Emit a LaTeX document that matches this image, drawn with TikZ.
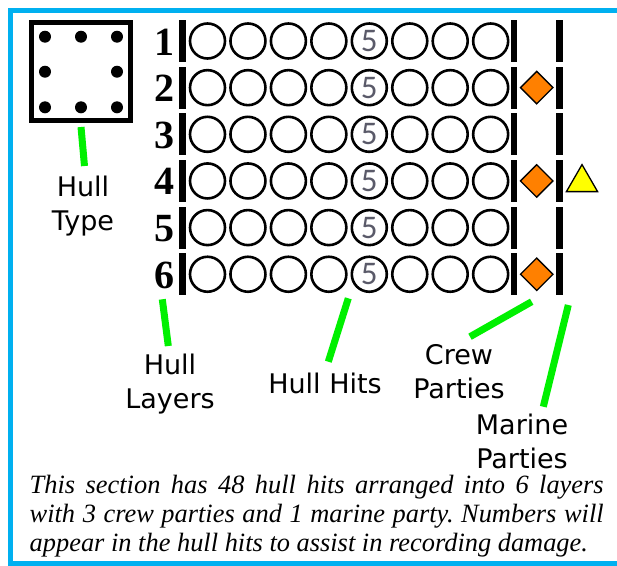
\documentclass[tikz,border=0pt]{standalone}
\usepackage{fontspec}
\setmainfont{Liberation Serif}
\newfontfamily\lblfont{DejaVu Sans}
\newfontfamily\digfont{Liberation Serif}
\newfontfamily\fivefont{Carlito}
\usetikzlibrary{shapes.geometric}
\definecolor{frameblue}{RGB}{0,176,240}
\definecolor{lblgreen}{RGB}{0,240,0}
\definecolor{crewor}{RGB}{255,128,0}
\definecolor{marineyel}{RGB}{255,255,0}
\definecolor{fivegray}{RGB}{90,90,105}
\begin{document}
\begin{tikzpicture}[x=1pt,y=-1pt,
  framel/.style={draw=frameblue,line width=4.6pt},
  hullbox/.style={draw=black,line width=5.5pt,minimum width=99pt,minimum height=98pt,inner sep=0pt},
  hit/.style={circle,draw=black,line width=2.6pt,minimum size=35pt,inner sep=0pt,
    font=\fivefont\fontsize{33}{33}\selectfont,text=fivegray},
  digit/.style={font=\digfont\bfseries\fontsize{40}{42}\selectfont,inner sep=0pt},
  crew/.style={diamond,draw=black,fill=crewor,line width=1.3pt,minimum size=33pt,inner sep=0pt},
  marine/.style={regular polygon,regular polygon sides=3,draw=black,fill=marineyel,line width=1.3pt,minimum size=36pt,inner sep=0pt},
  lbl/.style={font=\lblfont\fontsize{27}{34}\selectfont,inner sep=0pt,align=center},
  glink/.style={draw=lblgreen,line width=7pt},
  capt/.style={inner sep=0pt}
]
\useasboundingbox (0,0) rectangle (617,565);
% frame
\draw[framel] (620,10.5) -- (10.5,10.5) -- (10.5,563.3) -- (620,563.3);

% hull type box
\node[hullbox] (htbox) at (81,71.5) {};
\foreach \dx/\dy in {45/36.7,81/36.7,117/36.7,45/71.7,117/71.7,45/107.3,81/107.3,117/107.3}
  \fill (\dx,\dy) circle[radius=6pt];

% rows
\foreach \r in {1,...,6}{
  \pgfmathsetmacro{\yc}{41+(\r-1)*46.65}
  \node[digit,anchor=base] (d\r) at (164,\yc+14) {\r};
  \fill (179.2,\yc-21) rectangle (185.8,\yc+21);
  \foreach \i/\t in {1/,2/,3/,4/,5/5,6/,7/,8/}{
    \node[hit] (h\r-\i) at ({207.5+(\i-1)*40.45},\yc) {\t};
  }
  \fill (510.7,\yc-21) rectangle (517.3,\yc+21);
  \fill (555.7,\yc-21) rectangle (562.5,\yc+21);
}
\node[crew] (cp2) at (536.7,87.6) {};
\node[crew] (cp4) at (536.7,180.9) {};
\node[crew] (cp6) at (536.7,274.3) {};
\node[marine] (mp4) at (582,182.6) {};

% labels
\node[lbl,anchor=north] (lht) at (83,176) {Hull\\Type};
\node[lbl,anchor=north] (lhl) at (170,354) {Hull\\Layers};
\node[lbl,anchor=base] (lhh) at (325,393) {Hull Hits};
\node[lbl,anchor=north] (lcp) at (459,344) {Crew\\Parties};
\node[lbl,anchor=north] (lmp) at (522,414) {Marine\\Parties};

% green connectors
\coordinate (g1a) at (81,127);    \coordinate (g1b) at (84.5,166);
\coordinate (g2a) at (162.3,299.3); \coordinate (g2b) at (168.3,346);
\coordinate (g3a) at (348.3,298.3); \coordinate (g3b) at (328.3,361.7);
\coordinate (g4a) at (531.7,301.7); \coordinate (g4b) at (470,336.7);
\coordinate (g5a) at (568.3,305);   \coordinate (g5b) at (543.3,406.7);
\draw[glink] (g1a) -- (g1b);
\draw[glink] (g2a) -- (g2b);
\draw[glink] (g3a) -- (g3b);
\draw[glink] (g4a) -- (g4b);
\draw[glink] (g5a) -- (g5b);

% caption
\node[capt,anchor=base west] (cap) at (29.5,493.5) {\parbox[t]{574pt}{\itshape\fontsize{26.4}{29}\selectfont\frenchspacing\tolerance=10000\hbadness=10000
This section has 48 hull hits arranged into 6 layers\linebreak
with 3 crew parties and 1 marine party. Numbers will\linebreak
appear in the hull hits to assist in recording damage.}};
\end{tikzpicture}
\end{document}
